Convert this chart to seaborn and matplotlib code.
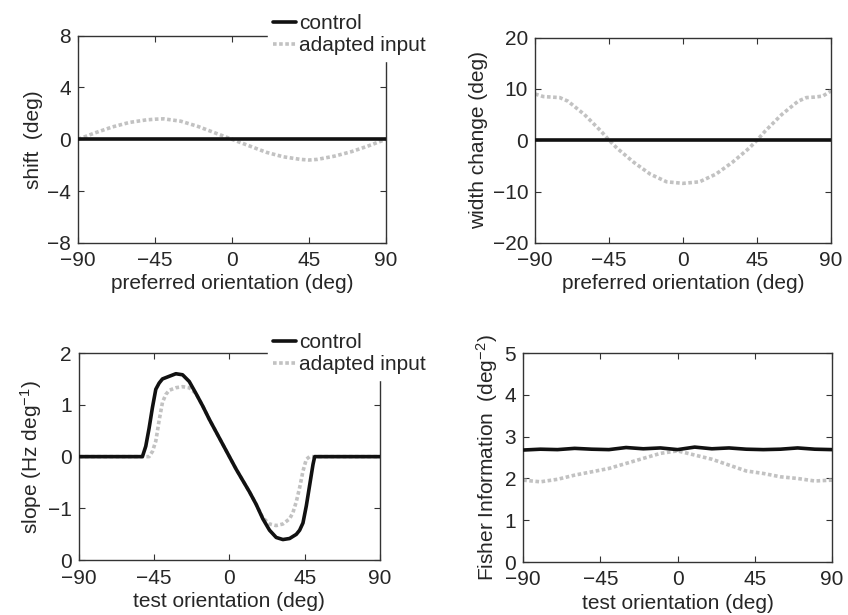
import numpy as np
import pandas as pd
import matplotlib
matplotlib.use("Agg")
import matplotlib.pyplot as plt
import seaborn as sns

# ---------------- data ----------------
shift_x = [-90, -80, -70, -60, -50, -45, -40, -30, -20, -10, 0,
           10, 20, 30, 40, 45, 50, 60, 70, 80, 90]
shift_adapted = [0.0, 0.5, 0.95, 1.3, 1.5, 1.55, 1.58, 1.4, 1.0, 0.5, 0.0,
                 -0.5, -1.0, -1.35, -1.55, -1.6, -1.55, -1.3, -0.95, -0.5, 0.0]
shift_control = [0.0] * len(shift_x)

width_x = [-90, -85, -80, -75, -70, -60, -50, -45, -40, -30, -20, -10, 0,
           10, 20, 30, 40, 45, 50, 60, 70, 75, 80, 85, 90]
width_adapted = [9.0, 8.5, 8.4, 8.3, 7.6, 5.0, 1.8, 0.0, -1.6, -4.3, -6.6, -8.1, -8.4,
                 -8.1, -6.6, -4.3, -1.6, 0.0, 1.8, 5.0, 7.6, 8.3, 8.4, 8.6, 9.6]
width_control = [0.0] * len(width_x)

slope_x_ctrl = [-90, -52, -50, -48, -46, -44, -42, -40, -36, -32, -28, -24, -20,
                -16, -12, -8, -4, 0, 4, 8, 12, 16, 20, 24, 28, 32, 36, 40,
                42, 44, 46, 48, 50, 51, 90]
slope_ctrl = [0.0, 0.0, 0.2, 0.55, 0.95, 1.3, 1.42, 1.5, 1.55, 1.6, 1.58, 1.45, 1.22,
              0.98, 0.72, 0.48, 0.24, 0.0, -0.24, -0.46, -0.68, -0.92, -1.2, -1.42,
              -1.56, -1.6, -1.58, -1.5, -1.42, -1.28, -0.95, -0.55, -0.15, 0.0, 0.0]
slope_x_adapt = [-90, -48, -46, -44, -42, -40, -38, -36, -32, -28, -24, -20,
                 -16, -12, -8, -4, 0, 4, 8, 12, 16, 20, 24, 28, 32, 36, 38, 40,
                 42, 44, 46, 48, 90]
slope_adapt = [0.0, 0.0, 0.1, 0.3, 0.7, 1.05, 1.2, 1.28, 1.33, 1.35, 1.33, 1.22,
               0.98, 0.72, 0.48, 0.24, 0.0, -0.24, -0.46, -0.68, -0.92, -1.18, -1.3,
               -1.33, -1.3, -1.2, -1.08, -0.87, -0.6, -0.28, -0.05, 0.0, 0.0]

fisher_x = [-90, -80, -70, -60, -50, -40, -30, -20, -10, 0,
            10, 20, 30, 40, 50, 60, 70, 80, 90]
fisher_ctrl = [2.68, 2.70, 2.69, 2.72, 2.70, 2.69, 2.74, 2.71, 2.73, 2.69,
               2.75, 2.71, 2.73, 2.70, 2.69, 2.70, 2.73, 2.70, 2.69]
fisher_adapt = [1.96, 1.92, 1.98, 2.08, 2.16, 2.24, 2.36, 2.48, 2.60, 2.66,
                2.56, 2.46, 2.32, 2.18, 2.12, 2.04, 2.00, 1.94, 1.96]

x_ticks = [-90, -45, 0, 45, 90]
x_ticklabels = ["\u221290", "\u221245", "0", "45", "90"]

# ---------------- style ----------------
sns.set_style("ticks")
plt.rcParams["font.family"] = ["Liberation Sans", "DejaVu Sans"]
plt.rcParams["mathtext.default"] = "regular"
plt.rcParams["xtick.direction"] = "in"
plt.rcParams["ytick.direction"] = "in"

BLACK = "#111111"
GREY = "#c2c2c2"
FS = 15

fig = plt.figure(figsize=(8.48, 6.15), dpi=100)
ax_tl = fig.add_axes([0.092, 0.605, 0.363, 0.337])
ax_tr = fig.add_axes([0.631, 0.605, 0.349, 0.334])
ax_bl = fig.add_axes([0.093, 0.089, 0.355, 0.337])
ax_br = fig.add_axes([0.617, 0.086, 0.364, 0.340])


def draw(ax, xc, yc, xa, ya):
    sns.lineplot(x=xc, y=yc, ax=ax, color=BLACK, lw=2.6, label="control",
                 estimator=None, zorder=3)
    sns.lineplot(x=xa, y=ya, ax=ax, color=GREY, lw=2.6, linestyle=(0, (1, 0.7)),
                 label="adapted input", estimator=None, zorder=2)


def style(ax, xlabel, ylabel):
    ax.set_xlim(-90, 90)
    ax.set_xticks(x_ticks)
    ax.set_xticklabels(x_ticklabels)
    ax.set_xlabel(xlabel, fontsize=FS, labelpad=3)
    ax.set_ylabel(ylabel, fontsize=FS, labelpad=3)
    ax.tick_params(labelsize=FS, length=4, width=0.8, top=True, right=True,
                   color="#333333")
    ax.tick_params(axis="x", pad=6)
    ax.tick_params(axis="y", pad=5)
    for s in ax.spines.values():
        s.set_visible(True)
        s.set_linewidth(1.0)
        s.set_color("#333333")


# top-left: shift
draw(ax_tl, shift_x, shift_control, shift_x, shift_adapted)
style(ax_tl, "preferred orientation (deg)", "shift  (deg)")
ax_tl.set_ylim(-8, 8)
ax_tl.set_yticks([-8, -4, 0, 4, 8])
ax_tl.set_yticklabels(["\u22128", "\u22124", "0", "4", "8"])

# top-right: width change
draw(ax_tr, width_x, width_control, width_x, width_adapted)
style(ax_tr, "preferred orientation (deg)", "width change (deg)")
ax_tr.set_ylim(-20, 20)
ax_tr.set_yticks([-20, -10, 0, 10, 20])
ax_tr.set_yticklabels(["\u221220", "\u221210", "0", "10", "20"])

# bottom-left: slope
draw(ax_bl, slope_x_ctrl, slope_ctrl, slope_x_adapt, slope_adapt)
style(ax_bl, "test orientation (deg)", "slope (Hz deg$^{-1}$)")
ax_bl.set_ylim(-2, 2)
ax_bl.set_yticks([-2, -1, 0, 1, 2])
ax_bl.set_yticklabels(["0", "\u22121", "0", "1", "2"])

# bottom-right: Fisher information
draw(ax_br, fisher_x, fisher_ctrl, fisher_x, fisher_adapt)
style(ax_br, "test orientation (deg)", "Fisher Information  (deg$^{-2}$)")
ax_br.set_ylim(0, 5)
ax_br.set_yticks([0, 1, 2, 3, 4, 5])

# legends only on the left panels, drawn over the top border
for ax, top in [(ax_tl, 9), (ax_bl, 328)]:
    leg = ax.legend(loc="upper left", bbox_to_anchor=(268 / 848, 1 - top / 615),
                    bbox_transform=fig.transFigure, fontsize=FS, frameon=True,
                    framealpha=1, facecolor="white", edgecolor="white",
                    handlelength=1.1, handletextpad=0.15, borderpad=0.25,
                    labelspacing=0.15, borderaxespad=0, fancybox=False)
    leg.set_zorder(10)
for ax in [ax_tr, ax_br]:
    ax.get_legend().remove()

fig.savefig("out.png", dpi=100)
